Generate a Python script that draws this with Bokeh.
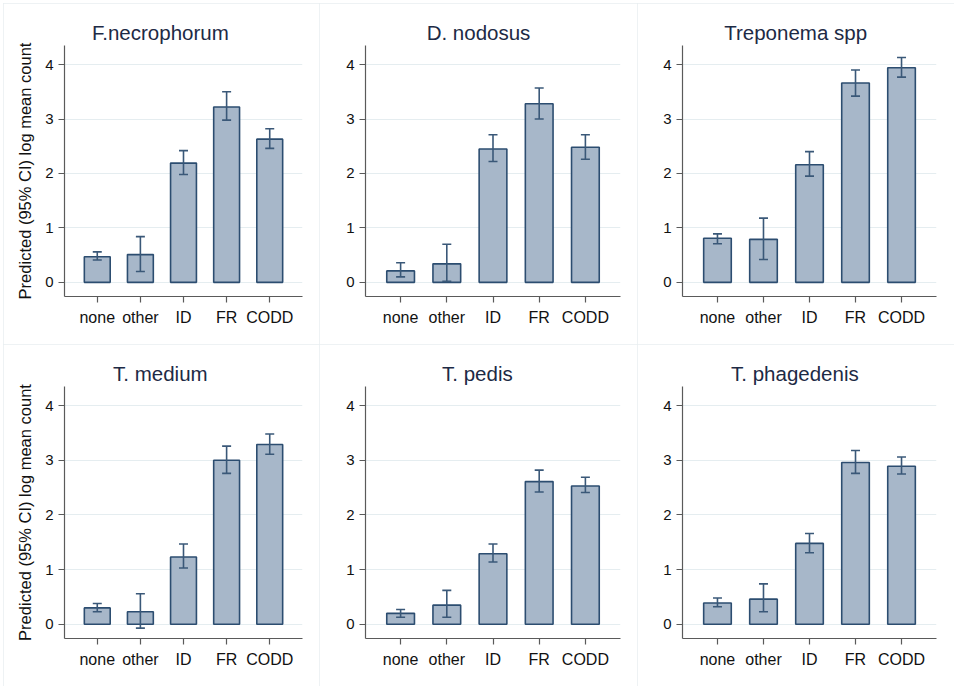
from bokeh.plotting import figure
from bokeh.models import (ColumnDataSource, FactorRange, Range1d, FixedTicker,
                          Whisker, TeeHead, Title)
from bokeh.layouts import gridplot
from bokeh.embed import file_html
from bokeh.resources import INLINE

# ---------------- data ----------------
categories = ["none", "other", "ID", "FR", "CODD"]
titles = ["F.necrophorum", "D. nodosus", "Treponema spp",
          "T. medium", "T. pedis", "T. phagedenis"]
y_ticks = [0, 1, 2, 3, 4]
y_label = "Predicted (95% CI) log mean count"

fnec_mean = [0.47, 0.51, 2.19, 3.22, 2.63]
fnec_low = [0.41, 0.20, 1.98, 2.98, 2.46]
fnec_high = [0.56, 0.84, 2.42, 3.50, 2.82]

dnod_mean = [0.21, 0.34, 2.45, 3.28, 2.48]
dnod_low = [0.10, 0.02, 2.22, 3.00, 2.26]
dnod_high = [0.36, 0.70, 2.71, 3.57, 2.71]

trep_mean = [0.81, 0.79, 2.16, 3.66, 3.94]
trep_low = [0.71, 0.42, 1.95, 3.42, 3.77]
trep_high = [0.89, 1.18, 2.40, 3.90, 4.13]

tmed_mean = [0.30, 0.23, 1.23, 3.00, 3.29]
tmed_low = [0.23, -0.07, 1.03, 2.76, 3.11]
tmed_high = [0.38, 0.56, 1.47, 3.26, 3.48]

tped_mean = [0.20, 0.35, 1.29, 2.61, 2.53]
tped_low = [0.13, 0.13, 1.14, 2.42, 2.41]
tped_high = [0.27, 0.62, 1.47, 2.82, 2.69]

tpha_mean = [0.39, 0.46, 1.48, 2.96, 2.89]
tpha_low = [0.32, 0.23, 1.31, 2.76, 2.75]
tpha_high = [0.48, 0.74, 1.66, 3.18, 3.06]

series = [
    (fnec_mean, fnec_low, fnec_high),
    (dnod_mean, dnod_low, dnod_high),
    (trep_mean, trep_low, trep_high),
    (tmed_mean, tmed_low, tmed_high),
    (tped_mean, tped_low, tped_high),
    (tpha_mean, tpha_low, tpha_high),
]

# ---------------- style ----------------
FONT = "Liberation Sans"
BAR_FILL = "#a7b7c9"
BAR_LINE = "#2c4d70"
ERR_COLOR = "#3a5878"
GRID = "#e5edf0"
AXIS = "#5a5a5a"
PANEL_BORDER = "#e8eef1"
TITLE_SIZE = 20.5

col_w = [316, 318, 317]
col_left = [61, 46, 45]
col_right = [17, 17, 18]
row_h = [341, 342]
TOP, BOTTOM = 42, 48

# Arial / Liberation Sans advance widths (per 1000 em) for centring titles
_W = {"F": 611, ".": 278, "n": 556, "e": 556, "c": 500, "r": 333, "o": 556,
      "p": 556, "h": 556, "u": 556, "m": 833, "D": 722, " ": 278, "d": 556,
      "s": 500, "T": 611, "a": 556, "i": 222, "g": 556}


def text_width(s, size):
    return sum(_W.get(ch, 556) for ch in s) / 1000.0 * size


def make_panel(idx):
    r, c = divmod(idx, 3)
    W, H = col_w[c], row_h[r]
    left, right = col_left[c], col_right[c]
    mean, low, high = series[idx]
    src = ColumnDataSource(dict(cat=categories, mean=mean, low=low, high=high))

    p = figure(width=W, height=H, output_backend="svg", toolbar_location=None,
               x_range=FactorRange(factors=categories, range_padding=0.26,
                                   range_padding_units="absolute"),
               y_range=Range1d(-0.26, 4.35),
               min_border_left=left, min_border_right=right,
               min_border_top=TOP, min_border_bottom=BOTTOM,
               background_fill_color="white", border_fill_color="white",
               outline_line_color=None)
    p.styles = {"outline": "1px solid " + PANEL_BORDER, "outline-offset": "-1px"}

    # title centred on the whole panel (not only the plot frame)
    off = W / 2.0 - left - text_width(titles[idx], TITLE_SIZE) / 2.0
    p.title = Title(text=titles[idx], align="left", offset=off,
                    vertical_align="bottom", standoff=4,
                    text_font=FONT, text_font_size=f"{TITLE_SIZE}px",
                    text_font_style="normal", text_color="#1d2a45")

    p.vbar(x="cat", top="mean", bottom=0, width=0.6, source=src,
           fill_color=BAR_FILL, line_color=BAR_LINE, line_width=1.6)

    w = Whisker(base="cat", upper="high", lower="low", source=src, level="overlay",
                line_color=ERR_COLOR, line_width=1.6,
                upper_head=TeeHead(size=9, line_color=ERR_COLOR, line_width=1.6),
                lower_head=TeeHead(size=9, line_color=ERR_COLOR, line_width=1.6))
    p.add_layout(w)

    # grid
    p.xgrid.visible = False
    p.ygrid.grid_line_color = GRID
    p.ygrid.grid_line_width = 1.2
    p.ygrid.ticker = FixedTicker(ticks=y_ticks)

    # y axis
    ya = p.yaxis[0]
    ya.ticker = FixedTicker(ticks=y_ticks)
    ya.minor_tick_line_color = None
    ya.major_tick_in = 0
    ya.major_tick_out = 6
    ya.axis_line_color = AXIS
    ya.axis_line_width = 1.2
    ya.major_tick_line_color = AXIS
    ya.major_tick_line_width = 1.2
    ya.major_label_text_font = FONT
    ya.major_label_text_font_size = "15px"
    ya.major_label_text_color = "#111111"
    ya.major_label_standoff = 5
    if c == 0:
        ya.axis_label = y_label
        ya.axis_label_text_font = FONT
        ya.axis_label_text_font_size = "16.5px"
        ya.axis_label_text_font_style = "normal"
        ya.axis_label_text_color = "#111111"
        ya.axis_label_standoff = 8

    # x axis
    xa = p.xaxis[0]
    xa.major_tick_in = 0
    xa.major_tick_out = 6
    xa.minor_tick_line_color = None
    xa.axis_line_color = AXIS
    xa.axis_line_width = 1.2
    xa.major_tick_line_color = AXIS
    xa.major_tick_line_width = 1.2
    xa.major_label_text_font = FONT
    xa.major_label_text_font_size = "16px"
    xa.major_label_text_color = "#111111"
    xa.major_label_standoff = 6
    return p


panels = [make_panel(i) for i in range(6)]
grid = gridplot([panels[0:3], panels[3:6]], toolbar_location=None)
grid.styles = {"margin-left": "3px", "margin-top": "3px"}

open("out.html", "w").write(file_html(grid, INLINE))
